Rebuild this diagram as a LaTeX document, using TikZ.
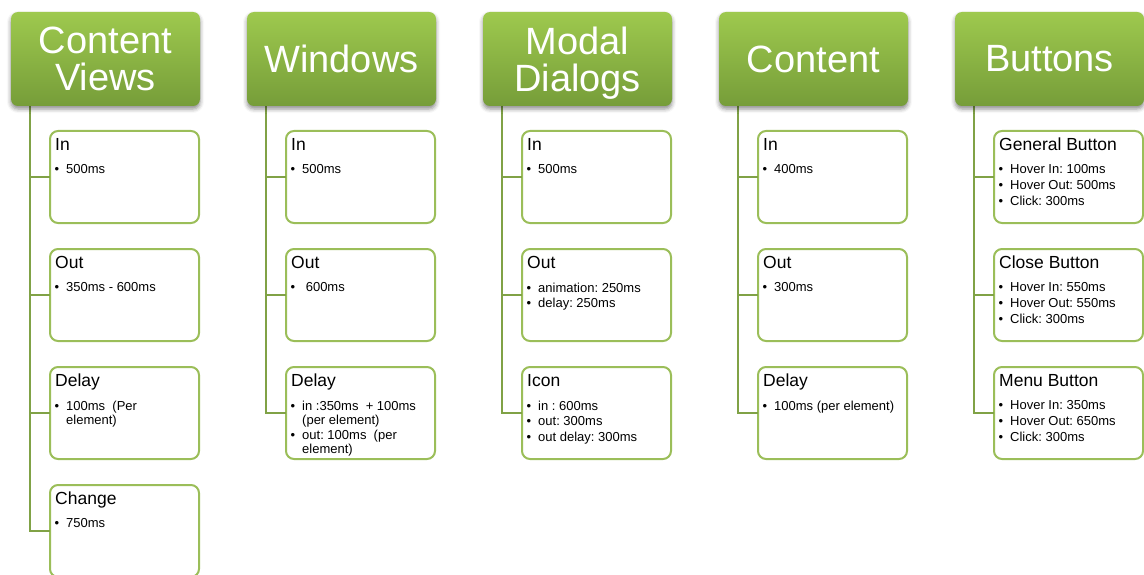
\documentclass[tikz,border=0pt]{standalone}
\usepackage{fontspec}
\setmainfont{Liberation Sans}
\usetikzlibrary{shadows.blur}
\frenchspacing

\definecolor{hdtop}{RGB}{158,201,78}
\definecolor{hdbot}{RGB}{118,157,57}
\definecolor{boxline}{RGB}{155,190,89}
\definecolor{connline}{RGB}{128,162,70}

% bullet line, wrapped continuation line, gap between bullets
\newcommand\bitem[1]{\makebox[12pt][l]{\hspace{0.5pt}•}#1}
\newcommand\bcont[1]{\hspace*{12pt}#1}
\newcommand\bnext{\\[1.4pt]}

\tikzset{
  header/.style={draw=none, rounded corners=7pt, top color=hdtop, bottom color=hdbot,
    minimum width=189pt, minimum height=94pt, inner sep=0pt, outer sep=0pt,
    anchor=north west, text=white, align=center,
    font=\fontsize{38}{37}\selectfont,
    blur shadow={shadow xshift=0pt, shadow yshift=-3pt, shadow blur radius=4pt, shadow opacity=45}},
  cbox/.style={draw=boxline, line width=2pt, rounded corners=8pt, fill=white,
    minimum width=149pt, minimum height=92pt, inner sep=0pt, outer sep=0pt, anchor=north west},
  ctitle/.style={anchor=base west, inner sep=0pt, font=\fontsize{17.5}{20}\selectfont},
  clist/.style={anchor=north west, inner sep=0pt, align=left, font=\fontsize{13}{14.3}\selectfont},
  conn/.style={draw=connline, line width=2pt}
}

% child box: name, x, y, title, bullet lines
\newcommand\childbox[5]{%
  \node[cbox] (#1) at (#2,#3) {};
  \node[ctitle] (#1t) at ([xshift=5pt,yshift=-19.5pt]#1.north west) {#4};
  \node[clist] (#1l) at ([xshift=4pt,yshift=-33.5pt]#1.north west) {#5};
}

\begin{document}
\begin{tikzpicture}[x=1pt, y=-1pt]
\useasboundingbox (0,0) rectangle (1144,575);

% ---------- column 1: Content Views ----------
\childbox{c00}{50}{131}{In}{\bitem{500ms}}
\childbox{c01}{50}{249}{Out}{\bitem{350ms - 600ms}}
\childbox{c02}{50}{367}{Delay}{\bitem{100ms\ \ (Per}\\\bcont{element)}}
\childbox{c03}{50}{485}{Change}{\bitem{750ms}}

% ---------- column 2: Windows ----------
\childbox{c10}{286}{131}{In}{\bitem{500ms}}
\childbox{c11}{286}{249}{Out}{\bitem{\ 600ms}}
\childbox{c12}{286}{367}{Delay}{\bitem{in :350ms\ \ + 100ms}\\\bcont{(per element)}\\[0.6pt]\bitem{out: 100ms\ \ (per}\\\bcont{element)}}

% ---------- column 3: Modal Dialogs ----------
\childbox{c20}{522}{131}{In}{\bitem{500ms}}
\childbox{c21}{522}{249}{Out}{\bitem{animation: 250ms}\bnext\bitem{delay: 250ms}}
\childbox{c22}{522}{367}{Icon}{\bitem{in : 600ms}\bnext\bitem{out: 300ms}\bnext\bitem{out delay: 300ms}}

% ---------- column 4: Content ----------
\childbox{c30}{758}{131}{In}{\bitem{400ms}}
\childbox{c31}{758}{249}{Out}{\bitem{300ms}}
\childbox{c32}{758}{367}{Delay}{\bitem{100ms (per element)}}

% ---------- column 5: Buttons ----------
\childbox{c40}{994}{131}{General Button}{\bitem{Hover In: 100ms}\bnext\bitem{Hover Out: 500ms}\bnext\bitem{Click: 300ms}}
\childbox{c41}{994}{249}{Close Button}{\bitem{Hover In: 550ms}\bnext\bitem{Hover Out: 550ms}\bnext\bitem{Click: 300ms}}
\childbox{c42}{994}{367}{Menu Button}{\bitem{Hover In: 350ms}\bnext\bitem{Hover Out: 650ms}\bnext\bitem{Click: 300ms}}

% ---------- header corners ----------
\path (11,12) coordinate (p0) (247,12) coordinate (p1) (483,12) coordinate (p2)
      (719,12) coordinate (p3) (955,12) coordinate (p4);

% connectors: trunk down from each header, branch into each child box
\foreach \h/\kids in {0/{c00,c01,c02,c03}, 1/{c10,c11,c12}, 2/{c20,c21,c22}, 3/{c30,c31,c32}, 4/{c40,c41,c42}}{
  \foreach \k in \kids {
    \draw[conn] ([xshift=19pt,yshift=-60pt]p\h) |- (\k.west);
  }
}

% headers drawn last so they sit over the trunk tops
\node[header] (h0) at (p0) {Content\\Views};
\node[header] (h1) at (p1) {Windows};
\node[header, text depth=0pt] (h2) at (p2) {Modal\\Dialogs};
\node[header] (h3) at (p3) {Content};
\node[header] (h4) at (p4) {Buttons};
\end{tikzpicture}
\end{document}
